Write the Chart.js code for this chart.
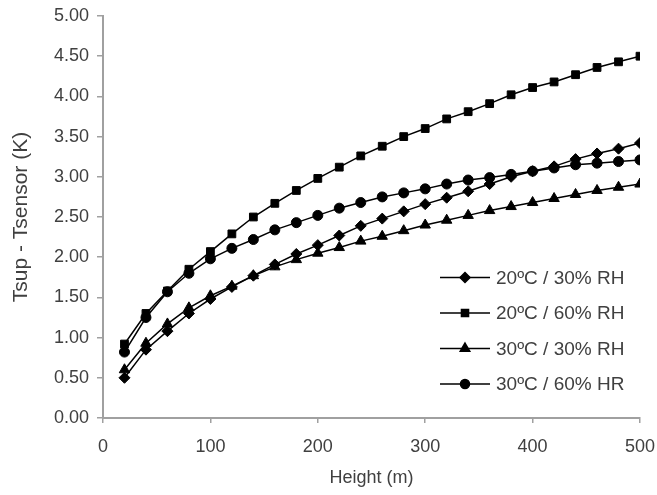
<!DOCTYPE html>
<html>
<head>
<meta charset="utf-8">
<script src="https://cdn.jsdelivr.net/npm/chart.js@4/dist/chart.umd.min.js"></script>
<style>
  html, body { margin: 0; padding: 0; background: #fff; }
  #wrap { width: 657px; height: 495px; }
</style>
</head>
<body>
<div id="wrap"><canvas id="grafico" width="657" height="495"></canvas></div>
<script>
// altura (m)
const heights = [20, 40, 60, 80, 100, 120, 140, 160, 180, 200, 220, 240, 260,
                 280, 300, 320, 340, 360, 380, 400, 420, 440, 460, 480, 500];

const labels = ['20ºC / 30% RH', '20ºC / 60% RH', '30ºC / 30% RH', '30ºC / 60% HR'];

const t20rh30 = [0.50, 0.85, 1.08, 1.30, 1.48, 1.63, 1.77, 1.91, 2.04, 2.15, 2.27, 2.39, 2.48,
                 2.57, 2.66, 2.74, 2.82, 2.91, 3.00, 3.07, 3.13, 3.22, 3.29, 3.35, 3.42];
const t20rh60 = [0.92, 1.30, 1.58, 1.85, 2.07, 2.29, 2.50, 2.67, 2.83, 2.98, 3.12, 3.26, 3.38,
                 3.50, 3.60, 3.72, 3.81, 3.91, 4.02, 4.11, 4.18, 4.27, 4.36, 4.43, 4.50];
const t30rh30 = [0.60, 0.93, 1.17, 1.37, 1.52, 1.64, 1.77, 1.88, 1.97, 2.05, 2.12, 2.20, 2.26,
                 2.33, 2.40, 2.46, 2.52, 2.58, 2.63, 2.68, 2.73, 2.78, 2.83, 2.87, 2.91];
const t30rh60 = [0.82, 1.25, 1.57, 1.80, 1.98, 2.11, 2.22, 2.34, 2.43, 2.52, 2.61, 2.68, 2.75,
                 2.80, 2.85, 2.91, 2.96, 2.99, 3.03, 3.07, 3.11, 3.15, 3.17, 3.19, 3.21];

const xTicks = [0, 100, 200, 300, 400, 500];
const yTicks = [0, 0.5, 1, 1.5, 2, 2.5, 3, 3.5, 4, 4.5, 5];

const series = [t20rh30, t20rh60, t30rh30, t30rh60];
const estilos = [
    { pointStyle: 'rectRot', radius: 5.5 },
    { pointStyle: 'rect', radius: 5.5 },
    { pointStyle: 'triangle', radius: 6 },
    { pointStyle: 'circle', radius: 5 }
];

const corEixo = '#a0a0a0';
const corTexto = '#404040';
const fonte = '"Liberation Sans", Arial, sans-serif';

function pontos(valores) {
    return valores.map((v, i) => ({ x: heights[i], y: v }));
}

// legenda desenhada dentro da área do gráfico, canto inferior direito
const legendaInterna = {
    id: 'legendaInterna',
    afterDraw(chart) {
        const ctx = chart.ctx;
        const area = chart.chartArea;
        const x0 = area.right - 200;
        const x1 = area.right - 150;
        ctx.save();
        chart.data.datasets.forEach((ds, i) => {
            const y = area.bottom - 34 - (3 - i) * 35.5;
            ctx.strokeStyle = '#000';
            ctx.lineWidth = 1.5;
            ctx.beginPath();
            ctx.moveTo(x0, y);
            ctx.lineTo(x1, y);
            ctx.stroke();
            ctx.fillStyle = '#000';
            Chart.helpers.drawPoint(ctx, {
                pointStyle: ds.pointStyle,
                radius: ds.pointRadius - 0.5,
                rotation: 0,
                borderWidth: 1
            }, (x0 + x1) / 2, y);
            ctx.fillStyle = corTexto;
            ctx.font = '19px ' + fonte;
            ctx.textBaseline = 'middle';
            ctx.textAlign = 'left';
            ctx.fillText(ds.label, x1 + 6, y + 1);
        });
        ctx.restore();
    }
};

const ctx = document.getElementById('grafico').getContext('2d');

var chart = new Chart(ctx, {
    type: 'scatter',
    data: {
        datasets: series.map((valores, i) => ({
            label: labels[i],
            data: pontos(valores),
            showLine: true,
            borderColor: '#000',
            backgroundColor: '#000',
            borderWidth: 1.5,
            pointStyle: estilos[i].pointStyle,
            pointRadius: estilos[i].radius,
            pointBorderWidth: 1,
            pointHoverRadius: estilos[i].radius
        }))
    },
    options: {
        responsive: false,
        animation: false,
        layout: {
            padding: { left: 8, right: 17, top: 16, bottom: 6 }
        },
        plugins: {
            legend: { display: false },
            tooltip: { enabled: false }
        },
        scales: {
            x: {
                type: 'linear',
                min: 0,
                max: 500,
                afterBuildTicks: scale => { scale.ticks = xTicks.map(v => ({ value: v })); },
                afterFit: scale => {
                    scale.height = 71;
                    scale.paddingLeft = 0;
                    scale.paddingRight = 0;
                },
                grid: { drawOnChartArea: false, color: corEixo, tickLength: 5, lineWidth: 1.5 },
                border: { color: corEixo, width: 2 },
                ticks: {
                    color: corTexto,
                    font: { family: fonte, size: 18 },
                    padding: 13,
                    maxRotation: 0
                },
                title: {
                    display: true,
                    text: 'Height (m)',
                    color: corTexto,
                    font: { family: fonte, size: 18 },
                    padding: { top: 4, bottom: 0 }
                }
            },
            y: {
                type: 'linear',
                min: 0,
                max: 5,
                afterBuildTicks: scale => { scale.ticks = yTicks.map(v => ({ value: v })); },
                afterFit: scale => {
                    scale.width = 95;
                    scale.paddingTop = 0;
                    scale.paddingBottom = 0;
                },
                grid: { drawOnChartArea: false, color: corEixo, tickLength: 6, lineWidth: 1.5 },
                border: { color: corEixo, width: 2 },
                ticks: {
                    color: corTexto,
                    font: { family: fonte, size: 18 },
                    padding: 8,
                    callback: v => Number(v).toFixed(2)
                },
                title: {
                    display: true,
                    text: 'Tsup - Tsensor (K)',
                    color: corTexto,
                    font: { family: fonte, size: 21 },
                    padding: { top: 1, bottom: 2 }
                }
            }
        }
    },
    plugins: [legendaInterna]
});
</script>
</body>
</html>
